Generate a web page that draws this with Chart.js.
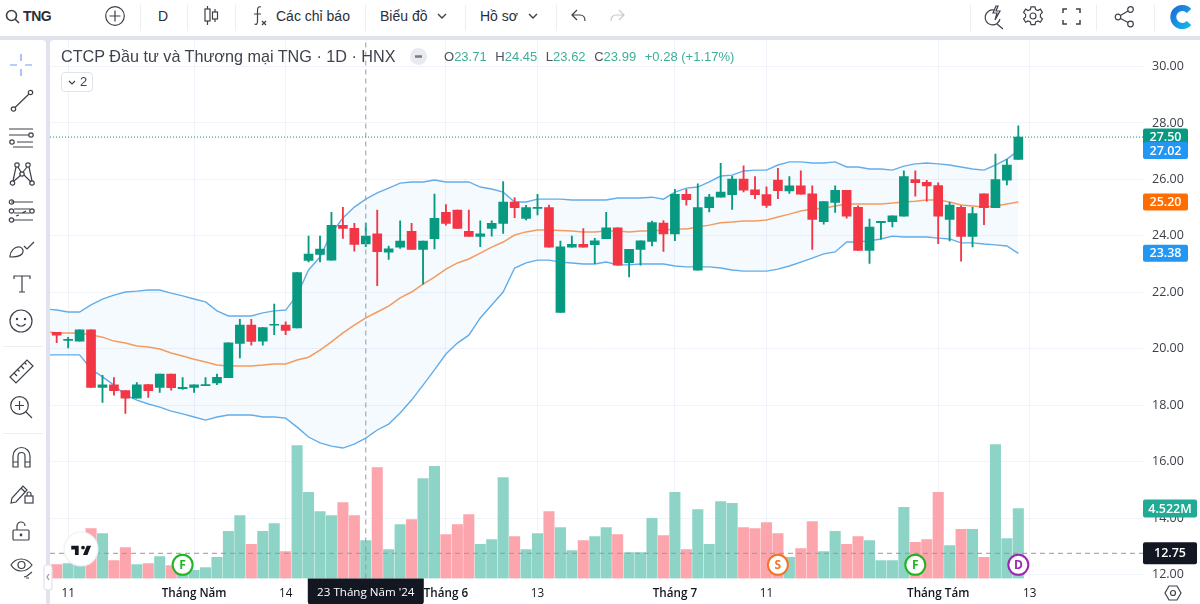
<!DOCTYPE html>
<html lang="vi">
<head>
<meta charset="utf-8">
<title>TNG</title>
<script src="https://cdn.jsdelivr.net/npm/chart.js@4"></script>
<style>
  html, body { margin: 0; padding: 0; background: #e0e3eb; overflow: hidden; }
  #page { position: relative; width: 1200px; height: 604px; overflow: hidden; font-family: "Liberation Sans", Arial, sans-serif; color: #131722; }
  #top { position: absolute; left: 0; top: 0; width: 1200px; height: 36px; background: #fff; }
  #side { position: absolute; left: 0; top: 40px; width: 46px; height: 564px; background: #fff; border-top-right-radius: 4px; }
  #wrap { position: absolute; left: 50px; top: 40px; width: 1150px; height: 564px; background: #fff; border-top-left-radius: 4px; overflow: hidden; }
  canvas { display: block; }
  .abs { position: absolute; }
  .sep { position: absolute; width: 1px; background: #eceef2; }
  .tb { position: absolute; top: 7px; font-size: 14px; line-height: 18px; color: #2a2e39; white-space: nowrap; }
  svg { position: absolute; fill: none; stroke: #3c4049; stroke-width: 1.2; overflow: visible; }
  #legend { position: absolute; left: 61px; top: 46px; font-size: 16.2px; line-height: 20px; color: #3f434e; white-space: nowrap; }
  #ohlc { position: absolute; left: 444px; top: 48px; font-size: 13px; line-height: 17px; color: #4c505b; white-space: nowrap; }
  #ohlc b { font-weight: normal; color: #3fae98; margin-right: 5px; }
  #count { position: absolute; left: 61px; top: 72px; width: 30px; height: 18px; border: 1px solid #e0e3eb; border-radius: 4px; background: #fff; font-size: 13px; line-height: 18px; color: #3f434e; }
</style>
</head>
<body>
<div id="page">
  <div id="top"></div>
  <div id="side"></div>
  <div id="wrap"><canvas id="priceChart" width="1150" height="564"></canvas></div>

  <!-- top toolbar -->
  <svg style="left:5px;top:9px" width="16" height="16" stroke-width="1.6"><circle cx="6.5" cy="6.5" r="5" stroke-width="1.6"/><path d="M10 10l4 4" stroke-width="1.6"/></svg>
  <div class="tb" style="left:23px;font-weight:bold;letter-spacing:-.4px">TNG</div>
  <svg style="left:105px;top:6px" width="20" height="20"><circle cx="10" cy="10" r="9.3"/><path d="M10 4.5v11M4.5 10h11"/></svg>
  <div class="sep" style="left:140px;top:5px;height:26px"></div>
  <div class="tb" style="left:158px">D</div>
  <div class="sep" style="left:187px;top:5px;height:26px"></div>
  <svg style="left:204px;top:6px" width="15" height="20"><path d="M3.5 0v3M3.5 15v4M11 3v3M11 13v3"/><rect x="1" y="3" width="5" height="12"/><rect x="8.5" y="6" width="5" height="7"/></svg>
  <div class="sep" style="left:235px;top:5px;height:26px"></div>
  <svg style="left:252px;top:6px" width="16" height="20"><path d="M9 1C6 0 5.5 2 5.5 5v10c0 3-1 4-3 3M2 8h7M10 15l4 4M14 15l-4 4"/></svg>
  <div class="tb" style="left:276px">Các chỉ báo</div>
  <div class="sep" style="left:365px;top:5px;height:26px"></div>
  <div class="tb" style="left:380px">Biểu đồ</div>
  <svg style="left:437px;top:13px" width="10" height="6"><path d="M1 1l4 4 4-4" stroke-width="1.4"/></svg>
  <div class="sep" style="left:465px;top:5px;height:26px"></div>
  <div class="tb" style="left:480px">Hồ sơ</div>
  <svg style="left:528px;top:13px" width="10" height="6"><path d="M1 1l4 4 4-4" stroke-width="1.4"/></svg>
  <div class="sep" style="left:556px;top:5px;height:26px"></div>
  <svg style="left:571px;top:9px" width="15" height="15"><path d="M6 1L1 6l5 5M1 6h8c3 0 5 2 5 6"/></svg>
  <svg style="left:610px;top:9px;stroke:#c8cad0" width="15" height="15"><path d="M9 1l5 5-5 5M14 6H6C3 6 1 8 1 12"/></svg>
  <div class="sep" style="left:970px;top:5px;height:26px"></div>
  <svg style="left:984px;top:5px" width="20" height="24"><path d="M10 5a7.5 7.5 0 1 0 6 9M13 19l6 5M12 1l-3 7h4l-2 7 5-9h-4l2-5z"/></svg>
  <svg style="left:1023px;top:6px" width="20" height="20"><circle cx="10" cy="10" r="3"/><path d="M8 0.8h4l.6 2.7 2.4 1 2.4-1.4 2 3.4-2 1.9v2.6l2 1.9-2 3.4-2.4-1.4-2.4 1-.6 2.7H8l-.6-2.7-2.4-1-2.4 1.4-2-3.4 2-1.9V8.4l-2-1.9 2-3.4L5 4.5l2.4-1z"/></svg>
  <svg style="left:1063px;top:8px" width="17" height="17" stroke-width="1.5"><path d="M0 5V1h4M13 1h4v4M17 12v4h-4M4 16H0v-4" stroke-width="1.5"/></svg>
  <div class="sep" style="left:1096px;top:5px;height:26px"></div>
  <svg style="left:1115px;top:6px" width="19" height="21"><circle cx="15.5" cy="3.5" r="2.8"/><circle cx="3" cy="11" r="2.8"/><circle cx="15.5" cy="18" r="2.8"/><path d="M5.5 9.5l7.5-4.5M5.5 12.5l7.5 4"/></svg>
  <div class="sep" style="left:1154px;top:5px;height:26px"></div>
  <svg style="left:1169px;top:6px" width="23" height="22"><defs><linearGradient id="cg" x1="0" y1="0" x2="1" y2="1"><stop offset="0" stop-color="#1f6fd6"/><stop offset="1" stop-color="#12b5e8"/></linearGradient></defs><path d="M20 5a9 9 0 1 0 0 12" stroke="url(#cg)" stroke-width="6"/></svg>

  <!-- left toolbar -->
  <svg style="left:10px;top:54px;stroke:#2962ff;opacity:.65" width="22" height="22" stroke-width="1.3"><path d="M11 0v7M11 15v7M0 11h7M15 11h7"/></svg>
  <svg style="left:11px;top:90px" width="22" height="22"><circle cx="2.5" cy="19" r="2.2"/><circle cx="19.5" cy="2.5" r="2.2"/><path d="M4 17.5L18 4"/></svg>
  <svg style="left:9px;top:128px" width="26" height="20"><path d="M0 1h24M0 7h20M8 14h16M4 19h20"/><circle cx="22" cy="7" r="2.2"/><circle cx="3" cy="14" r="2.2"/></svg>
  <svg style="left:10px;top:162px" width="24" height="24"><circle cx="7" cy="3" r="2.2"/><circle cx="18" cy="3" r="2.2"/><circle cx="12" cy="12" r="2.2"/><circle cx="2.5" cy="21" r="2.2"/><circle cx="22" cy="21" r="2.2"/><path d="M6 5L3 19M8 5l3 5M17 5l-4 5M19 5l3 14M4 19l7-6M14 13l7 7"/></svg>
  <svg style="left:9px;top:200px" width="26" height="22"><path d="M2 2h22M5 9h16M5 13h16M5 20h19M7 16l3-1M13 13l4-2" /><circle cx="2.5" cy="2" r="2.2"/><circle cx="2.5" cy="11" r="2.2"/><circle cx="23" cy="11" r="2.2"/><circle cx="2.5" cy="20" r="2.2"/></svg>
  <svg style="left:9px;top:238px" width="26" height="20"><path d="M1 19c0-6 5-11 10-10 3 1 4 4 2 7-2 2-7 3-12 3zM15 8l3 3 7-7"/></svg>
  <svg style="left:13px;top:275px" width="18" height="18"><path d="M1 4V1h16v3M9 1v16M6 17h6"/></svg>
  <svg style="left:9px;top:309px" width="24" height="24"><circle cx="12" cy="12" r="11"/><circle cx="8" cy="10" r=".6"/><circle cx="16" cy="10" r=".6"/><path d="M7.5 15c2.5 3 6.5 3 9 0"/></svg>
  <div class="sep" style="left:3px;top:346px;width:40px;height:1px"></div>
  <svg style="left:9px;top:359px" width="25" height="25"><path d="M1 18L18 1l6 6L7 24zM5 14l3 3M8.5 10.5l2 2M12 7l3 3M15.5 3.5l2 2"/></svg>
  <svg style="left:10px;top:396px" width="23" height="23"><circle cx="9.5" cy="9.5" r="8.8"/><path d="M16 16l6 6M9.5 5v9M5 9.5h9"/></svg>
  <div class="sep" style="left:3px;top:433px;width:40px;height:1px"></div>
  <svg style="left:12px;top:447px" width="19" height="21"><path d="M1 20V9a8.500 8.500 0 0 1 17 0v11h-5V9a3.500 3.500 0 0 0-7 0v11zM1 15h5M13 15h5"/></svg>
  <svg style="left:10px;top:483px" width="24" height="22"><path d="M1 20l1-5L13 3l4 4L6 19zM11 5l4 4"/><rect x="15" y="13" width="8" height="7"/><path d="M17 13v-2a2 2 0 0 1 4 0v2"/></svg>
  <svg style="left:12px;top:521px" width="18" height="20"><rect x="1" y="9" width="16" height="10" rx="1"/><path d="M5 9V5a4 4 0 0 1 8 0"/><circle cx="9" cy="14" r=".8" fill="#3c4049"/></svg>
  <svg style="left:10px;top:557px" width="24" height="24"><path d="M1 8c5-8 15-8 21 0-6 8-16 8-21 0z"/><circle cx="11.500" cy="8" r="3.500"/><path d="M14 20l3-1 5-4M16 21h3"/></svg>
  <svg style="left:44px;top:565px;z-index:3" width="8" height="25"><rect x="0" y="0" width="8" height="25" rx="3" fill="#fff" stroke="#e0e3eb"/><path d="M5 9l-2 3 2 3" stroke="#9598a1"/></svg>

  <!-- legend over the chart -->
  <div id="legend">CTCP Đầu tư và Thương mại TNG · 1D · HNX</div>
  <svg style="left:410px;top:48px" width="17" height="17"><circle cx="8.500" cy="8.500" r="8.500" fill="#e8eaef" stroke="none"/><path d="M5 8.500h7" stroke="#787b86" stroke-width="2.500"/></svg>
  <div id="ohlc">O<b>23.71</b> H<b>24.45</b> L<b>23.62</b> C<b>23.99</b> <b>+0.28 (+1.17%)</b></div>
  <div id="count"><svg style="left:6px;top:7px" width="8" height="5"><path d="M1 1l3 3 3-3"/></svg><span class="abs" style="left:18px">2</span></div>

  <!-- logo and axis settings -->
  <svg style="left:64px;top:532px" width="34" height="34"><circle cx="17" cy="17" r="17" fill="#fff" stroke="#eef0f3"/><path transform="translate(6 10) scale(.62)" d="M14 6H2v6h6v9h6V6zm14 15h-7l6-15h7l-6 15zm-7-9a3 3 0 1 0 0-6 3 3 0 0 0 0 6z" fill="#131722" stroke="none"/></svg>
  <svg style="left:1165px;top:585px" width="16" height="16"><path d="M4 1h8l4 7-4 7H4L0 8z"/><circle cx="8" cy="8" r="2.500"/></svg>
</div>

<script>
// values, one entry per session
const opens = [20.58,20.29,20.27,20.67,18.63,18.72,18.52,18.25,18.73,18.63,19.10,18.58,18.63,18.69,18.79,18.97,20.19,20.84,20.27,20.83,20.84,20.74,23.13,23.34,23.14,24.37,24.27,23.71,24.07,23.42,23.60,24.16,23.52,23.90,24.83,24.91,24.16,23.98,24.26,24.44,25.20,24.62,24.97,25.00,21.29,23.60,23.70,23.69,23.90,24.28,23.05,23.52,23.80,24.45,24.07,25.47,22.78,25.00,25.37,25.46,26.01,25.63,25.46,25.98,25.59,25.77,25.49,24.50,25.18,25.61,25.01,23.48,24.47,24.50,24.70,25.99,25.90,25.78,24.58,25.01,23.98,25.49,25.00,25.97,26.71];
const highs = [20.58,20.40,20.67,20.67,19.06,18.98,18.52,18.80,18.73,19.10,19.10,18.98,18.72,18.98,19.10,20.21,21.04,21.04,20.75,21.58,20.95,22.70,23.99,23.99,24.83,25.01,24.44,24.45,24.91,23.64,24.53,24.44,23.81,25.48,25.11,24.91,24.91,24.53,24.53,25.92,25.36,25.08,25.47,25.09,23.81,23.99,24.26,23.91,24.83,24.28,23.52,23.82,24.52,24.54,25.65,25.65,25.84,25.47,26.57,26.12,26.48,26.10,25.74,26.39,26.10,26.30,25.77,25.21,25.77,25.61,25.06,24.59,24.51,24.71,26.30,26.30,25.97,25.88,25.19,25.06,25.01,25.49,26.90,26.71,27.90];
const lows = [20.21,20.03,20.27,18.63,18.10,18.35,17.71,18.25,18.27,18.45,18.53,18.56,18.45,18.69,18.73,18.97,19.67,20.13,20.13,20.50,20.50,20.74,23.08,23.08,23.14,23.91,23.46,23.62,22.23,23.16,23.55,23.52,22.29,23.54,24.38,24.26,23.98,23.62,23.99,24.09,24.64,24.56,24.74,23.60,21.29,23.60,23.60,23.01,23.90,22.96,22.54,22.96,23.64,23.45,23.83,25.09,22.78,24.85,25.37,24.94,25.56,25.32,25.01,25.32,25.50,25.48,23.52,24.41,24.83,24.63,23.48,23.02,23.88,24.32,24.70,25.41,25.23,23.72,23.82,23.10,23.61,24.40,25.00,25.80,26.71];
const closes = [20.48,20.33,20.67,18.63,18.72,18.51,18.25,18.72,18.51,19.10,18.62,18.63,18.72,18.73,18.99,20.21,20.84,20.26,20.75,20.86,20.65,22.70,23.35,23.53,24.37,24.26,23.70,23.99,23.44,23.54,23.81,23.52,23.81,24.62,24.44,24.26,23.98,24.07,24.44,25.20,25.00,25.00,25.01,23.60,23.61,23.70,23.60,23.82,24.28,22.96,23.52,23.82,24.47,24.07,25.47,25.28,25.00,25.37,25.55,26.01,25.62,25.46,25.08,25.60,25.77,25.48,24.58,25.21,25.61,24.70,23.48,24.31,24.51,24.71,26.10,25.88,25.77,24.70,25.09,23.98,24.79,25.00,25.99,26.51,27.50];
const volumes = [0.90,0.97,0.97,3.23,2.91,1.16,2.00,0.90,0.97,1.42,0.84,0.71,0.52,0.71,1.36,3.04,4.07,2.20,3.04,3.55,1.74,8.59,5.56,4.33,4.07,4.91,4.07,2.45,7.17,1.87,3.49,3.81,6.46,7.24,2.84,3.49,4.13,2.20,2.52,6.52,2.71,1.87,2.91,4.33,3.29,1.81,2.45,2.71,3.29,2.84,1.68,1.68,3.88,2.78,5.56,1.87,4.46,2.20,4.97,4.85,3.29,3.23,3.62,2.91,1.36,1.94,3.68,1.74,3.04,2.20,2.71,2.45,1.16,1.16,4.59,2.33,2.52,5.56,2.13,3.17,3.17,1.36,8.66,2.58,4.522];

// bollinger bands, first entry is the session just left of the view
const bandUpper = [21.41,21.37,21.30,21.30,21.55,21.76,21.90,22.01,22.04,22.08,22.08,21.97,21.87,21.76,21.66,21.34,21.16,21.16,21.16,21.27,21.34,21.37,21.90,22.79,23.25,24.10,24.63,25.02,25.30,25.52,25.69,25.87,25.91,25.91,25.98,25.91,25.91,25.91,25.73,25.66,25.55,25.20,25.20,25.30,25.30,25.30,25.27,25.27,25.27,25.27,25.34,25.34,25.34,25.37,25.30,25.55,25.69,25.73,25.91,26.12,26.15,26.30,26.33,26.33,26.51,26.62,26.62,26.58,26.58,26.62,26.44,26.44,26.37,26.37,26.33,26.47,26.55,26.58,26.55,26.51,26.44,26.37,26.33,26.51,26.72,27.02];
const bandBasis = [20.59,20.57,20.56,20.56,20.49,20.41,20.27,20.20,20.10,20.06,19.99,19.85,19.74,19.63,19.53,19.42,19.39,19.39,19.39,19.42,19.46,19.46,19.60,19.70,19.95,20.24,20.56,20.84,21.09,21.30,21.51,21.80,22.01,22.29,22.54,22.82,23.04,23.18,23.39,23.60,23.78,24.03,24.14,24.21,24.21,24.19,24.17,24.14,24.14,24.17,24.17,24.14,24.17,24.17,24.21,24.24,24.24,24.31,24.38,24.46,24.49,24.53,24.53,24.56,24.67,24.77,24.88,24.95,24.98,25.06,25.13,25.13,25.13,25.13,25.16,25.20,25.23,25.27,25.27,25.20,25.09,25.06,25.02,25.06,25.13,25.20];
const bandLower = [19.78,19.78,19.78,19.78,19.28,19.00,18.71,18.36,18.18,18.04,17.93,17.79,17.69,17.58,17.47,17.58,17.65,17.65,17.65,17.58,17.58,17.54,17.22,16.87,16.66,16.55,16.48,16.62,16.83,17.12,17.33,17.72,18.18,18.71,19.25,19.81,20.20,20.48,21.09,21.55,22.01,22.86,23.04,23.14,23.14,23.07,23.04,23.00,23.00,23.07,22.97,22.97,23.00,23.00,23.00,22.93,22.90,22.90,22.90,22.86,22.79,22.75,22.75,22.75,22.82,22.93,23.07,23.21,23.36,23.43,23.78,23.78,23.82,23.89,23.99,23.96,23.96,23.96,23.92,23.89,23.75,23.75,23.71,23.68,23.64,23.38];

const priceTicks = [12,14,16,18,20,22,24,26,28,30];
const dateTicks = [1,12,20,34,42,54,62,77,85];
const dateLabels = ["11","Tháng Năm","14","Tháng 6","13","Tháng 7","11","Tháng Tám","13"];
const monthLabels = ["Tháng Năm","Tháng 6","Tháng 7","Tháng Tám"];

const lastClose = 27.50;
const crossPrice = 12.75;
const crossIndex = 27;
const crossDate = "23 Tháng Năm '24";

const eventIndexes = [11,63,75,84];
const eventLetters = ["F","S","F","D"];
const eventPrice = 12.34;

const UP = "#089981", DOWN = "#f23645";
const UP_VOL = "#8dd4c7", DOWN_VOL = "#fda5ac";
const BAND = "#64ade9", BASIS = "#f59b5f";
const EVENT_COLORS = ["#1fb51f","#f0752a","#1fb51f","#9c27b0"];

const isUp = closes.map((c, i) => c >= opens[i]);
const candleColors = isUp.map(u => u ? UP : DOWN);
const xMin = -0.585, xMax = 94.89;
const yMin = 11.857, yMax = 30.94;

function bandData(values) {
  return values.map((v, i) => ({ x: i - 1, y: v }));
}

function dateFont(c) {
  const bold = c.tick && monthLabels.includes(dateLabels[dateTicks.indexOf(c.tick.value)]);
  return { family: "'Open Sans'", size: 11.7, weight: bold ? "600" : "400" };
}

// stop the first and last labels from pushing the plot area inwards
function noPadding(s) {
  s.paddingLeft = s.paddingRight = s.paddingTop = s.paddingBottom = 0;
}

const markerPlugin = {
  id: "markers",
  afterDatasetsDraw(chart) {
    const { ctx, scales } = chart;
    ctx.save();
    ctx.font = "bold 12px 'Open Sans'";
    ctx.textAlign = "center";
    ctx.textBaseline = "middle";
    eventIndexes.forEach((idx, i) => {
      ctx.fillStyle = EVENT_COLORS[i];
      ctx.fillText(eventLetters[i], scales.x.getPixelForValue(idx), scales.y.getPixelForValue(eventPrice) + 0.5);
    });
    ctx.restore();
  },
  afterDraw(chart) {
    const { ctx, scales, chartArea } = chart;
    const left = chartArea.right;

    function tag(y, text, bg, w, h) {
      ctx.fillStyle = bg;
      ctx.beginPath();
      ctx.roundRect(left, y - h / 2, w, h, 2);
      ctx.fill();
      ctx.fillStyle = "#fff";
      ctx.fillText(text, left + w / 2, y + 0.5);
    }

    ctx.save();
    ctx.font = "600 12.5px 'Open Sans'";
    ctx.textAlign = "center";
    ctx.textBaseline = "middle";
    tag(scales.y.getPixelForValue(lastClose), lastClose.toFixed(2), UP, 45, 17);
    tag(scales.y.getPixelForValue(bandUpper[85]), bandUpper[85].toFixed(2), "#2196f3", 45, 17);
    tag(scales.y.getPixelForValue(bandBasis[85]), bandBasis[85].toFixed(2), "#ff6d00", 45, 17);
    tag(scales.y.getPixelForValue(bandLower[85]), bandLower[85].toFixed(2), "#2196f3", 45, 17);
    tag(scales.vol.getPixelForValue(volumes[84]), volumes[84].toFixed(3) + "M", "#22ab94", 54, 18);
    tag(scales.y.getPixelForValue(crossPrice), crossPrice.toFixed(2), "#131722", 54, 22);

    // date tag under the crosshair
    const cx = scales.x.getPixelForValue(crossIndex);
    ctx.fillStyle = "#131722";
    ctx.beginPath();
    ctx.roundRect(cx - 58, chartArea.bottom, 116, 26, [0, 0, 3, 3]);
    ctx.fill();
    ctx.fillStyle = "#fff";
    ctx.font = "500 11.6px 'Open Sans'";
    ctx.fillText(crossDate, cx, chartArea.bottom + 14.5);
    ctx.restore();
  }
};

const chart = new Chart(document.getElementById("priceChart"), {
  type: "bar",
  data: {
    datasets: [
      {
        label: "Volume", yAxisID: "vol", order: 10, grouped: false,
        data: volumes.map((v, i) => ({ x: i, y: v })),
        backgroundColor: isUp.map(u => u ? UP_VOL : DOWN_VOL),
        barThickness: 10.4
      },
      { type: "line", label: "Upper", order: 8, data: bandData(bandUpper), borderColor: BAND, borderWidth: 1.4, pointRadius: 0,
        fill: 2, backgroundColor: "rgba(33,150,243,0.05)" },
      { type: "line", label: "Lower", order: 8, data: bandData(bandLower), borderColor: BAND, borderWidth: 1.4, pointRadius: 0 },
      { type: "line", label: "Basis", order: 7, data: bandData(bandBasis), borderColor: BASIS, borderWidth: 1.5, pointRadius: 0 },
      {
        label: "Wick", order: 5, grouped: false,
        data: lows.map((l, i) => ({ x: i, y: [l, highs[i]] })),
        backgroundColor: candleColors, barThickness: 1.2
      },
      {
        label: "Body", order: 4, grouped: false,
        data: opens.map((o, i) => ({ x: i, y: [o, closes[i]] })),
        backgroundColor: candleColors, barThickness: 9
      },
      { type: "line", label: "Last", order: 3, data: [{ x: xMin, y: lastClose }, { x: xMax, y: lastClose }],
        borderColor: UP, borderWidth: 1, borderDash: [1, 2], pointRadius: 0 },
      { type: "line", label: "CrossH", order: 3, data: [{ x: xMin, y: crossPrice }, { x: xMax, y: crossPrice }],
        borderColor: "#9598a1", borderWidth: 1, borderDash: [5, 4], pointRadius: 0 },
      { type: "line", label: "CrossV", order: 3, data: [{ x: crossIndex, y: yMin }, { x: crossIndex, y: yMax }],
        borderColor: "#9598a1", borderWidth: 1, borderDash: [5, 4], pointRadius: 0 },
      { type: "scatter", label: "Events", order: 1, data: eventIndexes.map(i => ({ x: i, y: eventPrice })),
        pointRadius: 10, pointBorderWidth: 2, pointBackgroundColor: "#fff", pointBorderColor: EVENT_COLORS }
    ]
  },
  plugins: [markerPlugin],
  options: {
    responsive: false,
    animation: false,
    maintainAspectRatio: false,
    layout: { padding: 0, autoPadding: false },
    plugins: { legend: { display: false }, tooltip: { enabled: false } },
    elements: { line: { tension: 0 }, bar: { borderWidth: 0 } },
    scales: {
      x: {
        type: "linear", min: xMin, max: xMax, offset: false,
        grid: { color: "#f0f3fa", offset: false, drawTicks: false },
        border: { display: false },
        afterBuildTicks: s => { s.ticks = dateTicks.map(v => ({ value: v })); },
        afterFit: s => { s.height = 25.5; noPadding(s); },
        ticks: {
          autoSkip: false, maxRotation: 0, padding: 8.5, color: "#131722",
          callback: v => dateLabels[dateTicks.indexOf(v)],
          font: dateFont
        }
      },
      y: {
        position: "right", min: yMin, max: yMax,
        grid: { color: "#f0f3fa", drawTicks: false },
        border: { display: false },
        afterBuildTicks: s => { s.ticks = priceTicks.map(v => ({ value: v })); },
        afterFit: s => { s.width = 57; noPadding(s); },
        ticks: { padding: 9, color: "#3c4049", font: { family: "'Open Sans'", size: 12.5 }, callback: v => v.toFixed(2) }
      },
      vol: { display: false, position: "right", min: 0, max: 34.79, grid: { display: false } }
    }
  }
});
</script>
</body>
</html>
